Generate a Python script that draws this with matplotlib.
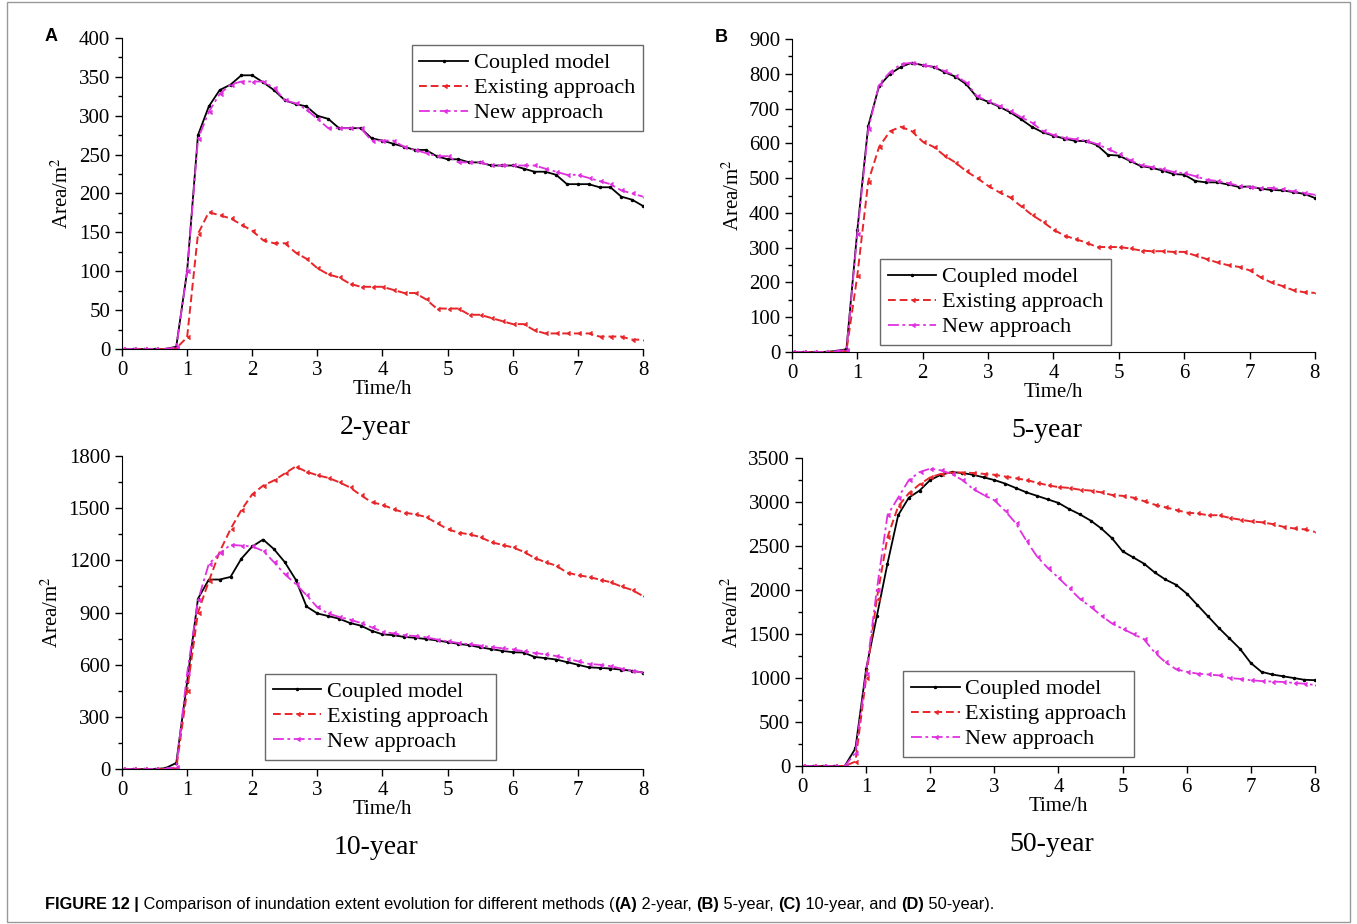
import numpy as np
import matplotlib
matplotlib.use('Agg')
import matplotlib.pyplot as plt
from matplotlib.patches import Rectangle
from matplotlib.ticker import MultipleLocator

plt.rcParams['font.family'] = 'Liberation Serif'
plt.rcParams['mathtext.fontset'] = 'stix'

# time axis: one value every 10 min, 0..8 h
time_h = np.arange(0, 481, 10) / 60.0

# ---- 2-year ----
a_coupled = [0, 0, 0, 0, 0, 3, 100, 275, 312, 333, 340, 352, 352, 343, 333, 320, 315,
             312, 300, 296, 284, 284, 284, 271, 268, 264, 260, 256, 256, 248, 244, 244,
             240, 240, 236, 236, 236, 232, 228, 228, 224, 212, 212, 212, 208, 208, 196,
             192, 184]
a_existing = [0, 0, 0, 0, 0, 1, 15, 148, 176, 172, 168, 160, 152, 140, 136, 136, 124,
              116, 104, 96, 92, 84, 80, 80, 80, 76, 72, 72, 64, 52, 52, 52, 44, 44, 40,
              36, 32, 32, 24, 20, 20, 20, 20, 20, 16, 16, 16, 12, 12]
a_new = [0, 0, 0, 0, 0, 2, 100, 270, 305, 328, 340, 344, 344, 344, 336, 320, 316, 308,
         296, 284, 284, 284, 284, 268, 268, 268, 260, 256, 252, 248, 248, 240, 240, 240,
         236, 236, 236, 236, 236, 232, 228, 224, 224, 220, 216, 212, 204, 200, 196]

# ---- 5-year ----
b_coupled = [0, 0, 0, 0, 3, 8, 350, 650, 765, 800, 820, 832, 825, 820, 805, 792, 770,
             732, 720, 706, 690, 670, 648, 632, 622, 614, 607, 607, 595, 567, 565, 550,
             535, 530, 522, 512, 510, 492, 488, 488, 482, 475, 476, 470, 466, 465, 460,
             455, 443]
b_existing = [0, 0, 0, 0, 0, 3, 220, 490, 590, 635, 648, 635, 605, 590, 565, 545, 520,
              500, 478, 460, 445, 420, 395, 375, 352, 335, 325, 315, 302, 302, 302, 298,
              292, 290, 290, 288, 288, 278, 268, 258, 250, 245, 235, 215, 200, 190, 178,
              172, 170]
b_new = [0, 0, 0, 0, 2, 6, 340, 640, 770, 805, 828, 832, 825, 820, 808, 795, 775, 735,
         722, 708, 694, 676, 660, 636, 624, 616, 612, 608, 598, 584, 570, 552, 538, 532,
         526, 518, 514, 506, 496, 492, 486, 478, 474, 472, 472, 468, 462, 458, 452]

# ---- 10-year ----
c_coupled = [0, 0, 0, 0, 5, 35, 500, 980, 1090, 1090, 1105, 1210, 1280, 1320, 1265,
             1190, 1090, 935, 895, 880, 865, 840, 825, 795, 775, 770, 760, 755, 748, 740,
             730, 720, 712, 700, 690, 680, 672, 670, 645, 638, 630, 615, 600, 585, 582,
             578, 572, 565, 555]
c_existing = [0, 0, 0, 0, 0, 5, 450, 900, 1080, 1250, 1380, 1490, 1580, 1630, 1660, 1700,
              1740, 1710, 1690, 1675, 1650, 1620, 1575, 1535, 1520, 1495, 1475, 1465,
              1450, 1415, 1380, 1360, 1350, 1335, 1305, 1290, 1275, 1250, 1215, 1190,
              1170, 1130, 1115, 1105, 1090, 1075, 1050, 1030, 995]
c_new = [0, 0, 0, 0, 2, 10, 550, 970, 1180, 1240, 1290, 1285, 1280, 1255, 1190, 1120,
         1065, 1000, 930, 895, 875, 860, 840, 815, 790, 780, 770, 765, 758, 745, 735, 725,
         718, 710, 702, 695, 688, 678, 668, 660, 650, 635, 620, 605, 600, 592, 578, 565,
         555]

# ---- 50-year ----
d_coupled = [0, 0, 0, 0, 0, 200, 1100, 1700, 2300, 2850, 3050, 3130, 3250, 3310, 3340,
             3330, 3310, 3280, 3250, 3210, 3160, 3110, 3070, 3030, 2990, 2920, 2860, 2790,
             2700, 2590, 2440, 2370, 2300, 2200, 2120, 2060, 1960, 1830, 1700, 1570, 1450,
             1330, 1170, 1070, 1040, 1020, 1000, 980, 975]
d_existing = [0, 0, 0, 0, 0, 50, 1000, 1900, 2600, 2950, 3100, 3200, 3280, 3320, 3335,
              3335, 3330, 3320, 3310, 3290, 3270, 3250, 3220, 3190, 3170, 3160, 3140,
              3130, 3110, 3080, 3070, 3050, 3010, 2970, 2940, 2910, 2880, 2870, 2850,
              2850, 2820, 2800, 2780, 2770, 2750, 2720, 2700, 2690, 2660]
d_new = [0, 0, 0, 0, 0, 150, 1050, 2000, 2850, 3050, 3250, 3340, 3380, 3360, 3320, 3250,
         3150, 3080, 3020, 2900, 2760, 2560, 2380, 2250, 2140, 2020, 1900, 1810, 1710,
         1620, 1560, 1500, 1440, 1290, 1180, 1100, 1070, 1050, 1040, 1030, 1000, 990, 975,
         965, 960, 955, 945, 935, 920]

panels = [
    dict(coupled=a_coupled, existing=a_existing, new=a_new, ymax=400, step=50,
         rect=[0.0899, 0.6223, 0.3839, 0.3366], leg=(1.0, 0.977), legloc='upper right',
         title='2-year', letter='A'),
    dict(coupled=b_coupled, existing=b_existing, new=b_new, ymax=900, step=100,
         rect=[0.5836, 0.6190, 0.3854, 0.3387], leg=(0.168, 0.022), legloc='lower left',
         title='5-year', letter='B'),
    dict(coupled=c_coupled, existing=c_existing, new=c_new, ymax=1800, step=300,
         rect=[0.0899, 0.1677, 0.3839, 0.3387], leg=(0.274, 0.029), legloc='lower left',
         title='10-year', letter=None),
    dict(coupled=d_coupled, existing=d_existing, new=d_new, ymax=3500, step=500,
         rect=[0.5910, 0.1710, 0.3780, 0.3333], leg=(0.197, 0.029), legloc='lower left',
         title='50-year', letter=None),
]

fig = plt.figure(figsize=(13.57, 9.24), dpi=100)

for p in panels:
    ax = fig.add_axes(p['rect'])
    ax.plot(time_h, p['coupled'], color='black', lw=1.3, marker='.', ms=3,
            label='Coupled model')
    ax.plot(time_h, p['existing'], color='#e8262a', lw=1.4, ls=(0, (4, 2)),
            marker=4, ms=2.5, label='Existing approach')
    ax.plot(time_h, p['new'], color='#e030e0', lw=1.3, ls=(0, (6, 2, 1.5, 2)),
            marker=4, ms=2.5, label='New approach')
    ax.set_xlim(0, 8)
    ax.set_ylim(0, p['ymax'])
    ax.xaxis.set_major_locator(MultipleLocator(1))
    ax.yaxis.set_major_locator(MultipleLocator(p['step']))
    ax.yaxis.set_minor_locator(MultipleLocator(p['step'] / 2))
    ax.spines['top'].set_visible(False)
    ax.spines['right'].set_visible(False)
    ax.tick_params(axis='both', which='major', direction='out', length=5, width=1,
                   labelsize=15)
    ax.tick_params(axis='y', which='minor', direction='out', length=3, width=1)
    ax.set_xlabel('Time/h', fontsize=15, labelpad=0)
    ax.set_ylabel(r'Area/m$^2$', fontsize=15, labelpad=4)
    leg = ax.legend(loc=p['legloc'], bbox_to_anchor=p['leg'], fontsize=16,
                    frameon=True, fancybox=False, handlelength=2.2,
                    borderpad=0.35, labelspacing=0.2, handletextpad=0.25,
                    borderaxespad=0)
    leg.get_frame().set_edgecolor('#444444')
    leg.get_frame().set_linewidth(1)
    x0, y0, w, h = p['rect']
    fig.text(x0 + w / 2 - 0.005, y0 - 0.085, p['title'], fontsize=20,
             ha='center', va='center')
    if p['letter']:
        fig.text(x0 - 0.052, y0 + h + 0.002, p['letter'], fontsize=13,
                 fontweight='bold', family='Liberation Sans', ha='center', va='center')

# caption, written piece by piece so the letters can be bold
caption = [('FIGURE 12 |', True),
           (' Comparison of inundation extent evolution for different methods (', False),
           ('(A)', True), (' 2-year, ', False), ('(B)', True), (' 5-year, ', False),
           ('(C)', True), (' 10-year, and ', False), ('(D)', True), (' 50-year).', False)]
renderer = fig.canvas.get_renderer()
cx = 0.033
for s, bold in caption:
    t = fig.text(cx, 0.021, s, fontsize=11.8, family='Liberation Sans',
                 fontweight='bold' if bold else 'normal', ha='left', va='center')
    cx += t.get_window_extent(renderer).width / fig.bbox.width

fig.patches.append(Rectangle((0.005, 0.002), 0.99, 0.996, transform=fig.transFigure,
                             fill=False, edgecolor='#999999', lw=1))

fig.savefig('out.png', dpi=100)
